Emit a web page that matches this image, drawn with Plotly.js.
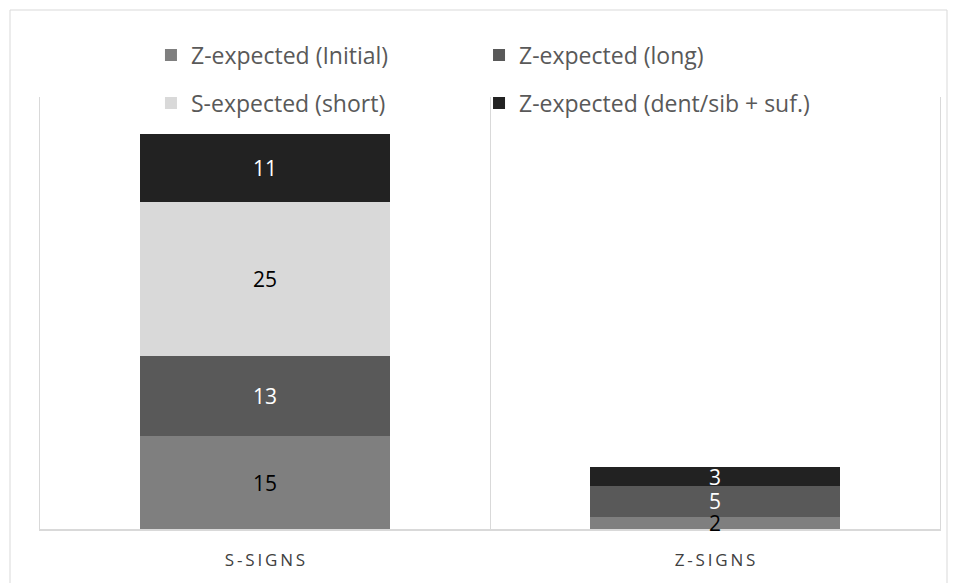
<!DOCTYPE html>
<html>
<head>
<meta charset="utf-8">
<script src="https://cdn.plot.ly/plotly-3.0.1.min.js"></script>
<style>
  html, body { margin: 0; padding: 0; background: #ffffff; }
  #chart { width: 957px; height: 583px; }
</style>
</head>
<body>
<div id="chart"></div>
<script>
// Sign categories on the x axis
const categories = ['S-SIGNS', 'Z-SIGNS'];

// Series, stacked bottom to top
const seriesNames = [
  'Z-expected (Initial)',
  'Z-expected (long)',
  'S-expected (short)',
  'Z-expected (dent/sib + suf.)'
];
const zInitial = [15, 2];
const zLong = [13, 5];
const sShort = [25, 0];
const zDentSib = [11, 3];

const seriesValues = [zInitial, zLong, sShort, zDentSib];
const seriesColors = ['#7f7f7f', '#595959', '#d9d9d9', '#222222'];
const labelColors = ['#000000', '#ffffff', '#000000', '#ffffff'];

// one single-entry legend per slot: two columns by two rows
const legendIds = ['legend', 'legend2', 'legend3', 'legend4'];
const legendX = [0.1233, 0.4878, 0.1233, 0.4878];
const legendY = [1.097, 1.097, 0.986, 0.986];

const FONT = 'Open Sans, Noto Sans, sans-serif';

// widen the category labels with thin spaces between letters
const spaced = s => s.split('').join('\u2009');

const traces = seriesValues.map((vals, i) => ({
  type: 'bar',
  name: seriesNames[i],
  x: categories,
  y: vals,
  marker: { color: seriesColors[i], line: { width: 0 } },
  hoverinfo: 'name+y',
  legend: legendIds[i]
}));

// value labels at the middle of each stacked segment, drawn above all bars
const annotations = [];
categories.forEach((cat, c) => {
  let base = 0;
  seriesValues.forEach((vals, i) => {
    const v = vals[c];
    if (v > 0) {
      annotations.push({
        x: cat, y: base + v / 2,
        xref: 'x', yref: 'y',
        text: String(v),
        showarrow: false,
        height: 18,
        valign: 'middle',
        font: { family: FONT, size: 21, color: labelColors[i] }
      });
    }
    base += v;
  });
});

const layout = {
  width: 957,
  height: 583,
  margin: { l: 40, r: 17, t: 97, b: 54 },
  paper_bgcolor: '#ffffff',
  plot_bgcolor: '#ffffff',
  barmode: 'stack',
  bargap: 0.445,
  showlegend: true,
  annotations: annotations,
  xaxis: {
    type: 'category',
    range: [-0.5, 1.5],
    tickmode: 'array',
    tickvals: categories,
    ticktext: categories.map(spaced),
    tickson: 'boundaries',
    ticks: '',
    showgrid: true,
    gridcolor: '#d9d9d9',
    gridwidth: 1,
    showline: true,
    linecolor: '#d9d9d9',
    linewidth: 2,
    ticklabelstandoff: 15,
    tickfont: { family: FONT, size: 17, color: '#404040' },
    fixedrange: true
  },
  yaxis: {
    range: [0, 70],
    showgrid: false,
    zeroline: false,
    showline: true,
    mirror: true,
    linecolor: '#d9d9d9',
    linewidth: 1,
    showticklabels: false,
    ticks: '',
    fixedrange: true
  },
  shapes: [{
    // chart frame
    type: 'rect',
    xref: 'paper', yref: 'paper',
    x0: -30 / 900, x1: 907 / 900,
    y0: -70 / 432, y1: 519 / 432,
    line: { color: '#d9d9d9', width: 1 },
    fillcolor: 'rgba(0,0,0,0)',
    layer: 'below'
  }]
};

legendIds.forEach((id, i) => {
  layout[id] = {
    orientation: 'h',
    x: legendX[i],
    y: legendY[i],
    xanchor: 'left',
    yanchor: 'middle',
    font: { family: FONT, size: 23, color: '#595959' },
    bgcolor: 'rgba(0,0,0,0)',
    itemwidth: 30
  };
});

Plotly.newPlot('chart', traces, layout, { displayModeBar: false, staticPlot: true });
</script>
</body>
</html>
